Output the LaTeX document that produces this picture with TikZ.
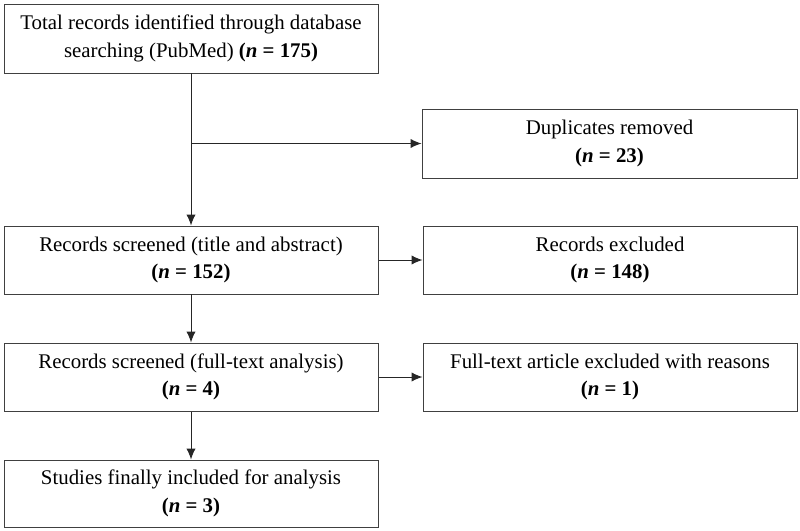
\documentclass[tikz,border=0pt]{standalone}
\usepackage{fontspec}
\setmainfont{Liberation Serif}
\usetikzlibrary{arrows.meta,positioning}

\newcommand{\ncount}[1]{\textbf{(\textit{n} = #1)}}

\begin{document}
\begin{tikzpicture}[
    x=0.03cm,y=-0.03cm,
    >=Latex,
    box/.style={
        draw=black!75,
        line width=0.85pt,
        fill=white,
        align=center,
        minimum width=374*0.03cm,
        minimum height=68*0.03cm,
        inner sep=2pt,
        font=\fontsize{17.8}{23.5}\selectfont
    },
    flow/.style={-{Latex[length=0.33cm,width=0.28cm]}, line width=0.85pt, draw=black!85}
]
\useasboundingbox (0,0) rectangle (800,531);

% -----------------------------------------------------------------------------
% Main column
% -----------------------------------------------------------------------------
\node[box, minimum height=69*0.03cm] (ident) at (191,38.5)
    {Total records identified through database\\searching (PubMed) \ncount{175}};
\node[box] (screen) at (191,260)
    {Records screened (title and abstract)\\\ncount{152}};
\node[box] (fulltext) at (191,377)
    {Records screened (full-text analysis)\\\ncount{4}};
\node[box, minimum height=67*0.03cm] (incl) at (191,493.5)
    {Studies finally included for analysis\\\ncount{3}};

% -----------------------------------------------------------------------------
% Exclusions on the right
% -----------------------------------------------------------------------------
\node[box, minimum width=375*0.03cm, minimum height=69*0.03cm] (dup) at (609.5,143.5)
    {Duplicates removed\\\ncount{23}};
\node[box] (excl) at (610,260)
    {Records excluded\\\ncount{148}};
\node[box] (ftexcl) at (610,377)
    {Full-text article excluded with reasons\\\ncount{1}};

% -----------------------------------------------------------------------------
% Connectors
% -----------------------------------------------------------------------------
\coordinate (split) at (ident.south |- dup.west);
\draw[flow] (ident.south) -- (screen.north);
\draw[flow] (split) -- (dup.west);
\draw[flow] (screen.south) -- (fulltext.north);
\draw[flow] (fulltext.south) -- (incl.north);
\draw[flow] (screen.east) -- (excl.west);
\draw[flow] (fulltext.east) -- (ftexcl.west);

\end{tikzpicture}
\end{document}
